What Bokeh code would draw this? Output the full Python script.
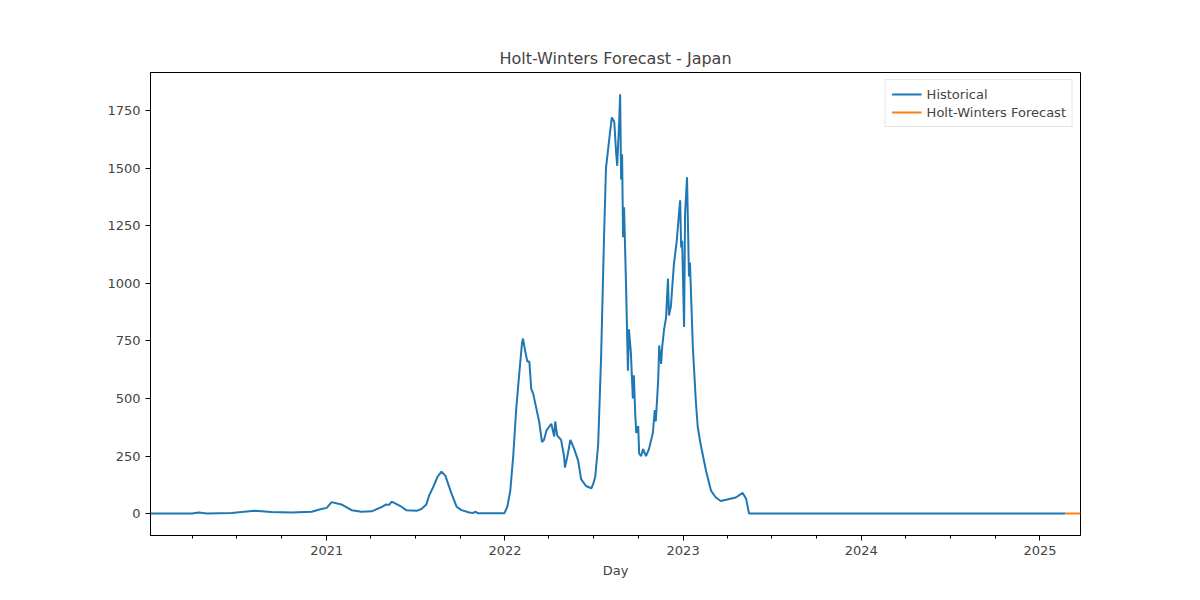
import pandas as pd
from bokeh.plotting import figure
from bokeh.models import FixedTicker, DatetimeTickFormatter, Range1d, Legend, LegendItem
from bokeh.embed import file_html
from bokeh.resources import INLINE

# days since 2020-01-01 and values
hist_days = [5, 90, 104, 120, 171, 218, 253, 294, 335, 355, 366, 376, 396, 417, 437, 458,
             478, 488, 494, 499, 519, 529, 550, 560, 570, 576, 584, 593, 601, 609, 621, 632,
             642, 658, 666, 671, 675, 724, 730, 736, 742, 748, 754, 760, 766, 768, 773, 777,
             781, 785, 789, 795, 801, 807, 811, 816, 826, 832, 834, 838, 846, 852, 854, 860,
             865, 873, 881, 887, 897, 908, 912, 916, 922, 928, 934, 938, 946, 950, 955, 959,
             961, 965, 967, 969, 971, 973, 975, 979, 983, 985, 989, 991, 993, 995, 998, 1000,
             1004, 1006, 1010, 1014, 1020, 1026, 1034, 1038, 1040, 1045, 1047, 1051, 1053,
             1057, 1061, 1065, 1067, 1071, 1077,
             1083, 1088, 1090, 1092, 1094, 1098, 1100, 1102, 1104, 1108, 1110, 1116, 1122,
             1126, 1132, 1143, 1153, 1163, 1173, 1184, 1204, 1218, 1225, 1231, 1879]
hist_vals = [0, 1, 5, 1, 3, 12, 7, 5, 8, 20, 25, 50, 40, 15, 8, 10,
             28, 40, 38, 52, 30, 15, 12, 20, 40, 80, 115, 160, 182, 165, 90, 30,
             15, 5, 3, 8, 2, 2, 2, 30, 100, 250, 450, 600, 740, 760, 700, 660,
             660, 540, 520, 460, 400, 310, 320, 360, 390, 335, 400, 340, 320, 250, 200, 260,
             320, 280, 230, 150, 120, 110, 130, 160, 300, 680, 1200, 1500, 1650, 1720, 1700, 1560,
             1510, 1700, 1820, 1450, 1560, 1200, 1330, 1000, 620, 800, 700, 600, 500, 600, 430, 350,
             380, 260, 250, 280, 250, 280, 350, 450, 400, 580, 730, 650, 720,
             800, 850, 1020, 860, 900, 1080,
             1185, 1315, 1360, 1155, 1185, 810, 1300, 1380, 1460, 1030, 1090, 720, 490,
             375, 300, 185, 100, 70, 55, 60, 70, 90, 65, 0, 0]
fc_days = [1879, 1910]
fc_vals = [0, 0]

base = pd.Timestamp("2020-01-01")
hist_dates = base + pd.to_timedelta(hist_days, unit="D")
fc_dates = base + pd.to_timedelta(fc_days, unit="D")

p = figure(width=1184, height=584, x_axis_type="datetime", output_backend="svg",
           toolbar_location=None, title="Holt-Winters Forecast - Japan",
           min_border_left=150, min_border_right=104, min_border_top=72, min_border_bottom=49)
p.x_range = Range1d(base + pd.Timedelta(days=5), base + pd.Timedelta(days=1910))
p.y_range = Range1d(-95, 1915)

r1 = p.line(hist_dates, hist_vals, line_width=2, color="#1f77b4")
r2 = p.line(fc_dates, fc_vals, line_width=2, color="#ff7f0e")

to_ms = lambda s: pd.Timestamp(s).value / 1e6
major = [to_ms(f"{y}-01-01") for y in range(2021, 2026)]
minor = [to_ms(f"{y}-{m:02d}-01") for y in range(2020, 2026) for m in (4, 7, 10)]
p.xaxis.ticker = FixedTicker(ticks=major, minor_ticks=minor)
p.xaxis.formatter = DatetimeTickFormatter(years="%Y", months="%Y", days="%Y")
p.yaxis.ticker = FixedTicker(ticks=list(range(0, 2000, 250)))
p.xaxis.axis_label = "Day"

for ax in (p.xaxis, p.yaxis):
    ax.major_label_text_font = "DejaVu Sans"
    ax.major_label_text_font_size = "13px"
    ax.axis_label_text_font = "DejaVu Sans"
    ax.axis_label_text_font_size = "13px"
    ax.axis_label_text_font_style = "normal"
    ax.major_tick_out = 5
    ax.major_tick_in = 0
    ax.minor_tick_out = 3
    ax.minor_tick_in = 0
    ax.axis_line_color = "black"
p.yaxis.minor_tick_line_color = None
p.grid.visible = False
p.outline_line_color = "black"

p.title.text_font = "DejaVu Sans"
p.title.text_font_size = "16px"
p.title.text_font_style = "normal"
p.title.align = "center"

legend = Legend(items=[LegendItem(label="Historical", renderers=[r1]),
                       LegendItem(label="Holt-Winters Forecast", renderers=[r2])],
                location="top_right", label_text_font="DejaVu Sans", label_text_font_size="13px",
                border_line_color="#cccccc", glyph_width=30, spacing=2, padding=6,
                label_height=16, glyph_height=16, margin=7)
p.add_layout(legend)

open("out.html", "w").write(file_html(p, INLINE))
